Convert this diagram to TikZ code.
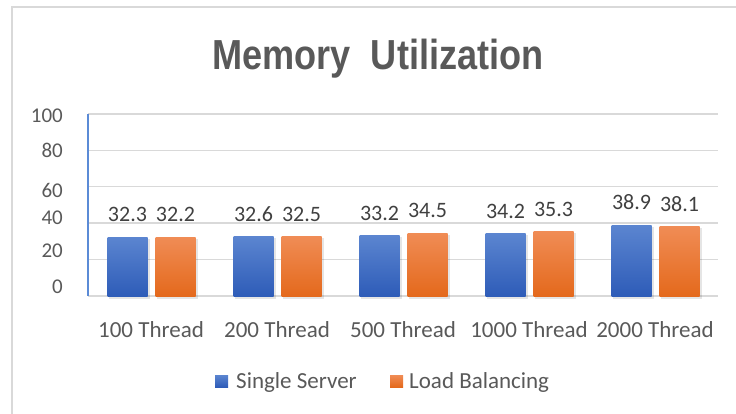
\documentclass[tikz,border=0pt]{standalone}
\usepackage{fontspec}
\setmainfont{Carlito}
\newfontfamily\titlefont{Liberation Sans}
\usepackage{graphicx}
\usepackage{xcolor}
\usepackage{tikz}
\usetikzlibrary{positioning}

\definecolor{framegray}{HTML}{D9D9D9}
\definecolor{gridgray}{HTML}{D9D9D9}
\definecolor{textgray}{HTML}{595959}
\definecolor{valgray}{HTML}{404040}
\definecolor{axisblue}{HTML}{5B8BD6}
\definecolor{ssTop}{HTML}{5B85D0}
\definecolor{ssBot}{HTML}{2E5CB8}
\definecolor{lbTop}{HTML}{F08C55}
\definecolor{lbBot}{HTML}{E4691C}

\begin{document}
\begin{tikzpicture}[x=1pt, y=-1pt,
  grid/.style={draw=gridgray, line width=1.4pt},
  shadow/.style={fill=black, opacity=0.10},
  ssbar/.style={top color=ssTop, bottom color=ssBot},
  lbbar/.style={top color=lbTop, bottom color=lbBot},
  ytick/.style={font=\fontsize{21}{24}\selectfont, text=textgray,
                anchor=base east, inner sep=0pt},
  cat/.style={font=\fontsize{23}{26}\selectfont, text=textgray,
              anchor=base, inner sep=0pt},
  val/.style={font=\fontsize{22}{25}\selectfont, text=valgray,
              anchor=base, inner sep=0pt},
  legtext/.style={font=\fontsize{23}{26}\selectfont, text=textgray,
                  anchor=base west, inner sep=0pt},
]
  \useasboundingbox (0,0) rectangle (736,414);

  % === Chart frame ===
  \draw[framegray, line width=2pt] (12,414) -- (12,7.5) -- (736,7.5);

  % === Title ===
  \node[font=\titlefont\bfseries\fontsize{42}{46}\selectfont, text=textgray,
        anchor=base, inner sep=0pt] (title) at (378,70)
    {\scalebox{0.86}[1]{Memory\ \ Utilization}};

  % === Grid and y labels ===
  \foreach \v/\b in {100/123, 80/158, 60/197, 40/225, 20/257, 0/293} {
    \draw[grid] (88, 296-1.82*\v) -- (718, 296-1.82*\v);
    \node[ytick] (y\v) at (63,\b) {\v};
  }
  \draw[axisblue, line width=1.6pt] (88,114) -- (88,296);

  % === Bars ===
  \foreach \i/\cat/\ss/\lb in {1/100/32.3/32.2, 2/200/32.6/32.5,
                              3/500/33.2/34.5, 4/1000/34.2/35.3,
                              5/2000/38.9/38.1} {
    \pgfmathsetmacro{\c}{88+126*(\i-0.5)}
    \pgfmathsetmacro{\hs}{296-1.82*\ss}
    \pgfmathsetmacro{\hl}{296-1.82*\lb}
    % shadows
    \fill[shadow] (\c-42.5,\hs+1.5) rectangle (\c-1.5,298.5);
    \fill[shadow] (\c+5.5,\hl+1.5) rectangle (\c+46.5,298.5);
    % single server / load balancing
    \shade[ssbar] (\c-43.5,\hs) rectangle (\c-3.5,296);
    \shade[lbbar] (\c+4.5,\hl) rectangle (\c+44.5,296);
    % value labels
    \node[val] (vs\i) at (\c-23.5,\hs-15.5) {\ss};
    \node[val] (vl\i) at (\c+24.5,\hl-15.5) {\lb};
    % category label
    \node[cat] (cat\i) at (\c,337) {\cat\ Thread};
  }

  % === Legend ===
  \fill[ssbar] (215,375) rectangle (228,387);
  \node[legtext] (legss) at (236,388) {Single Server};
  \fill[lbbar] (390,375) rectangle (403,387);
  \node[legtext] (leglb) at (409,388) {Load Balancing};

\end{tikzpicture}
\end{document}
